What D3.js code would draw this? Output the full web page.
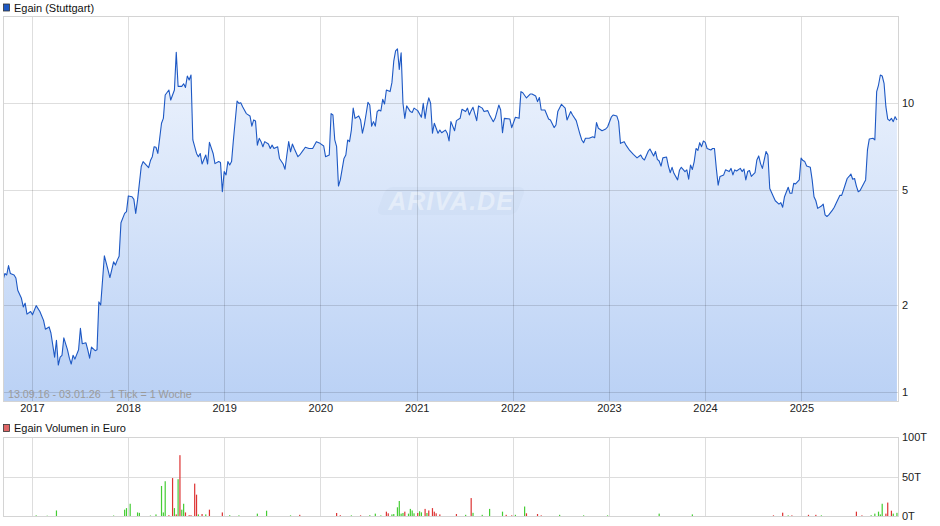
<!DOCTYPE html>
<html><head><meta charset="utf-8">
<script src="https://cdn.jsdelivr.net/npm/d3@7"></script>
<style>
body{margin:0;background:#fff;}
svg{display:block;font-family:"Liberation Sans",Arial,sans-serif;}
</style></head>
<body><svg id="c" width="940" height="526"></svg>
<script>
// ---- data ----
const startDate = "2016-09-13";
const endDate = "2026-01-03";
const priceTitle = "Egain (Stuttgart)";
const volumeTitle = "Egain Volumen in Euro";
const rangeNote = "13.09.16 - 03.01.26   1 Tick = 1 Woche";
const priceTicks = [1, 2, 5, 10];
const volumeTicks = [0, 50000, 100000];
const volumeTickLabels = ["0T", "50T", "100T"];
const yearTicks = [2017, 2018, 2019, 2020, 2021, 2022, 2023, 2024, 2025];

// week index since start, closing price
const priceWeeks = [0,1,2,3,4,6,7,8,10,11,12,13,15,16,18,20,22,23,25,26,28,29,30,31,32,33,35,36,37,38,39,41,42,43,45,46,47,48,50,51,52,53,55,57,58,60,61,62,63,64,66,67,68,70,71,72,73,75,76,77,79,80,81,82,83,84,86,87,88,90,91,93,94,95,97,98,99,100,101,102,103,105,106,107,108,110,111,112,114,115,117,118,119,120,121,122,123,124,125,127,128,129,130,132,134,135,136,137,138,139,140,141,142,144,145,146,147,149,150,152,153,154,155,156,157,158,160,161,163,164,166,168,170,172,174,175,177,178,179,180,181,182,183,185,186,187,188,189,190,191,193,194,195,196,197,198,199,200,201,202,203,204,205,206,207,208,210,211,212,213,214,215,216,217,218,219,221,222,223,225,227,228,229,230,231,232,233,234,236,237,238,240,241,242,243,245,246,248,249,251,252,253,254,255,257,258,260,261,263,264,266,267,269,270,271,272,275,276,278,280,281,282,284,286,287,289,290,291,292,294,296,297,299,300,301,303,305,306,308,309,311,313,314,315,316,318,320,321,322,323,325,327,328,330,331,333,334,335,337,338,340,342,344,346,347,348,350,351,353,354,355,356,357,358,360,361,362,363,364,366,367,368,370,371,372,373,374,375,376,377,378,379,380,381,382,384,385,386,387,388,389,391,392,394,395,396,397,398,400,401,402,403,404,405,406,408,409,410,411,412,414,415,416,418,419,421,422,423,424,426,427,428,429,430,432,433,434,435,436,438,439,440,441,442,444,445,446,447,448,450,451,452,454,455,456,458,459,460,461,462,463,464,465,467,468,469,470,472,473,474,475,476,477,478,479,480,481,482,483,484,485];
const priceValues = [2.44,2.57,2.54,2.74,2.57,2.54,2.48,2.25,2.11,1.97,2.03,1.86,1.90,1.85,1.99,1.90,1.77,1.65,1.68,1.60,1.32,1.51,1.24,1.32,1.34,1.54,1.40,1.31,1.25,1.34,1.30,1.40,1.66,1.47,1.48,1.40,1.31,1.43,1.39,1.40,2.05,2.00,2.96,2.64,2.49,2.82,2.75,2.86,2.95,3.85,4.15,4.21,4.77,4.74,4.64,4.15,4.62,6.03,6.27,6.17,5.98,6.32,6.52,7.06,7.03,6.69,8.51,8.85,10.66,11.09,10.24,11.09,14.97,11.42,11.42,11.66,11.32,12.40,12.01,12.50,7.45,6.69,6.52,6.69,6.15,6.61,6.15,7.31,6.69,6.17,6.27,6.22,4.93,5.79,5.64,6.27,6.10,6.27,7.45,10.16,9.97,10.02,9.71,9.19,9.02,8.32,8.74,8.66,7.15,7.55,7.35,7.06,7.35,7.21,6.96,7.15,6.96,7.06,6.43,6.15,5.90,6.61,7.35,6.78,7.21,6.96,6.52,6.61,6.88,7.03,6.96,6.96,7.35,7.25,7.10,6.52,6.61,9.19,9.09,7.45,7.06,5.16,5.42,6.43,6.61,7.45,7.35,8.06,9.60,8.85,9.02,8.74,7.86,8.39,9.16,10.05,9.84,8.32,8.62,8.32,9.34,9.46,9.38,10.30,9.92,11.09,10.95,11.76,13.95,15.14,15.40,13.07,14.93,9.98,8.85,9.77,9.34,9.27,9.60,9.41,8.93,9.98,8.85,9.77,10.42,9.98,7.86,8.51,7.86,8.06,7.89,8.06,7.86,7.39,8.62,8.02,8.69,8.85,9.51,9.34,9.60,9.09,9.41,9.66,8.69,9.77,9.60,9.34,9.41,9.09,8.62,8.85,9.84,9.46,7.89,8.85,8.80,8.22,8.93,8.85,10.95,10.85,10.41,10.74,10.74,10.57,10.11,10.45,9.46,9.46,8.80,8.74,8.22,8.39,9.34,9.90,9.60,8.74,9.34,9.09,8.69,7.81,7.45,7.29,7.55,7.55,7.64,7.58,8.55,8.18,8.02,8.13,8.26,8.93,9.09,9.02,8.62,7.25,7.35,7.15,6.85,6.64,6.46,6.61,6.43,6.35,6.80,6.93,6.56,6.80,6.38,6.30,6.05,6.46,6.50,6.05,5.74,5.99,5.71,5.42,5.85,5.99,5.79,5.87,5.45,6.10,5.89,6.27,6.96,6.85,7.29,7.06,7.39,7.31,6.96,6.88,6.96,6.96,5.94,5.20,5.57,5.64,5.87,5.79,5.94,5.64,5.87,5.82,5.94,5.79,5.91,5.42,5.79,5.84,5.57,5.74,6.35,6.56,6.17,5.94,6.80,6.61,5.06,4.74,4.59,4.47,4.52,4.36,4.74,5.11,4.87,4.87,5.27,5.25,5.42,6.45,6.32,6.27,6.05,5.99,5.42,4.74,4.59,4.32,4.40,4.47,4.10,4.05,4.10,4.26,4.36,4.50,4.79,4.79,5.00,5.48,5.57,5.68,5.45,5.48,5.16,4.93,4.98,5.27,5.42,6.88,7.51,7.55,7.45,10.95,11.54,12.50,12.40,11.70,9.71,8.80,8.69,8.85,8.62,8.97,8.74];

// volume in euro (week index, amount, direction +1 up / -1 down)
const volumeWeeks = [18,24,29,60,66,67,69,73,74,80,83,86,87,88,90,92,93,94,95,96,97,98,99,101,102,104,105,106,108,110,112,119,123,128,138,143,156,161,181,183,189,194,199,202,205,208,209,211,212,214,215,216,217,218,220,221,222,223,225,226,227,229,230,231,233,234,235,237,246,251,254,255,260,264,271,273,276,278,283,284,290,292,302,315,328,356,374,418,423,426,428,437,441,444,463,466,471,473,475,476,477,479,480,482,483,485];
const volumeValues = [800,400,7000,600,8000,10000,15500,4500,4000,600,2000,38000,4500,44000,1000,48000,10000,2000,46600,77000,8000,15500,4500,1000,1000,41000,27000,2000,2500,2000,8000,4500,1000,800,3000,6700,800,1500,3800,1000,800,800,1000,3000,800,5500,3400,2000,2500,11000,19000,3000,3800,5500,3000,9000,7000,3400,3800,6000,4600,9000,3800,7000,10000,5500,3400,2000,2500,1500,22700,4000,1500,9000,5500,1500,800,1500,12000,3400,2500,800,1500,800,800,3000,2000,800,4200,800,800,1500,1500,800,5500,800,1000,3000,5500,2000,15500,3000,17000,6700,3000,4000];
const volumeDir = [1,1,1,1,1,1,1,1,1,1,1,1,1,1,-1,-1,1,-1,1,-1,1,1,-1,-1,-1,-1,-1,1,-1,1,-1,-1,1,1,1,1,1,-1,-1,-1,1,-1,1,1,1,-1,-1,1,1,1,1,1,1,-1,1,1,1,1,-1,1,1,-1,1,-1,-1,-1,-1,-1,-1,1,-1,1,1,1,1,-1,-1,1,1,-1,-1,-1,1,1,1,1,1,-1,-1,1,-1,-1,-1,1,-1,-1,1,1,1,1,1,-1,-1,-1,1,1];

// ---- chart ----
const svg = d3.select("#c");
const parse = d3.timeParse("%Y-%m-%d");
const t0 = parse(startDate), t1 = parse(endDate);
const weekDate = w => d3.timeDay.offset(t0, w * 7);

const L = 3, R = 898, PT = 16, PB = 401, VT = 437, VB = 516;
const x = d3.scaleTime().domain([t0, t1]).range([L, R]);
const y = d3.scaleLog().domain([0.931, 20]).range([PB, PT]);
const yv = d3.scaleLinear().domain([0, 100000]).range([VB, VT]);

const prices = priceWeeks.map((w, i) => ({d: weekDate(w), v: priceValues[i]}));
const vols = volumeWeeks.map((w, i) => ({d: weekDate(w), v: volumeValues[i], dir: volumeDir[i]}));
const years = yearTicks.map(yr => new Date(yr, 0, 1));

const defs = svg.append("defs");
const grad = defs.append("linearGradient").attr("id", "fillg")
  .attr("gradientUnits", "userSpaceOnUse").attr("x1", 0).attr("y1", PT).attr("x2", 0).attr("y2", PB);
grad.append("stop").attr("offset", 0).attr("stop-color", "#f3f7fe");
grad.append("stop").attr("offset", 1).attr("stop-color", "#bad1f5");
defs.append("clipPath").attr("id", "clipP").append("rect")
  .attr("x", L).attr("y", PT).attr("width", R - L).attr("height", PB - PT);

// price panel
const gP = svg.append("g");
gP.append("g").attr("clip-path", "url(#clipP)")
  .append("path").datum(prices)
  .attr("fill", "url(#fillg)")
  .attr("d", d3.area().x(d => x(d.d)).y0(PB).y1(d => y(d.v)));

// watermark
const wm = gP.append("g").attr("transform", "translate(451,201)");
wm.append("rect").attr("x", -70).attr("y", -14).attr("width", 140).attr("height", 28).attr("rx", 7)
  .attr("transform", "skewX(-20)").attr("fill", "#c8d6ee").attr("opacity", 0.3);
wm.append("text").attr("text-anchor", "middle").attr("y", 9).attr("font-size", 25)
  .attr("font-style", "italic").attr("font-weight", "bold").attr("fill", "#ffffff").attr("opacity", 0.4)
  .attr("letter-spacing", 1).text("ARIVA.DE");

// grid
const grid = gP.append("g").attr("stroke", "#000").attr("stroke-opacity", 0.13).attr("shape-rendering", "crispEdges");
grid.selectAll("line.v").data(years).join("line").attr("class", "v")
  .attr("x1", d => Math.round(x(d)) + 0.5).attr("x2", d => Math.round(x(d)) + 0.5).attr("y1", PT).attr("y2", PB);
grid.selectAll("line.h").data(priceTicks).join("line").attr("class", "h")
  .attr("x1", L).attr("x2", R).attr("y1", d => Math.round(y(d)) + 0.5).attr("y2", d => Math.round(y(d)) + 0.5);

gP.append("g").attr("clip-path", "url(#clipP)")
  .append("path").datum(prices)
  .attr("fill", "none").attr("stroke", "#1d58c4").attr("stroke-width", 1.1).attr("stroke-linejoin", "round")
  .attr("d", d3.line().x(d => x(d.d)).y(d => y(d.v)));

gP.append("rect").attr("x", L + 0.5).attr("y", PT + 0.5).attr("width", R - L).attr("height", PB - PT)
  .attr("fill", "none").attr("stroke", "#d4d4d4");

gP.append("text").attr("x", 8).attr("y", 398).attr("font-size", 10.7).attr("fill", "#9a9a9a")
  .attr("xml:space", "preserve").style("white-space", "pre").text(rangeNote);

// axes
const yAxis = d3.axisRight(y).tickValues(priceTicks).tickFormat(d3.format("d")).tickSize(0).tickPadding(4);
svg.append("g").attr("transform", `translate(${R},0)`).call(yAxis)
  .call(g => g.select(".domain").remove())
  .selectAll("text").attr("font-size", 11).attr("fill", "#222").attr("font-family", "Liberation Sans, Arial, sans-serif");

const xAxis = d3.axisBottom(x).tickValues(years).tickFormat(d3.timeFormat("%Y")).tickSize(0).tickPadding(3);
svg.append("g").attr("transform", `translate(0,${PB})`).call(xAxis)
  .call(g => g.select(".domain").remove())
  .selectAll("text").attr("font-size", 11).attr("fill", "#222").attr("font-family", "Liberation Sans, Arial, sans-serif");

// legends
function legend(yc, col, label) {
  svg.append("rect").attr("x", 3.5).attr("y", yc - 3.5).attr("width", 6).attr("height", 7)
    .attr("fill", col).attr("stroke", "#333").attr("stroke-width", 0.8);
  svg.append("text").attr("x", 14).attr("y", yc + 4).attr("font-size", 11).attr("fill", "#111").text(label);
}
legend(7.5, "#1d58c4", priceTitle);
legend(428, "#e06666", volumeTitle);

// volume panel
const gV = svg.append("g");
const vgrid = gV.append("g").attr("stroke", "#ddd").attr("shape-rendering", "crispEdges");
vgrid.selectAll("line.v").data(years).join("line")
  .attr("x1", d => Math.round(x(d)) + 0.5).attr("x2", d => Math.round(x(d)) + 0.5).attr("y1", VT).attr("y2", VB);
vgrid.append("line").attr("x1", L).attr("x2", R).attr("y1", Math.round(yv(50000)) + 0.5).attr("y2", Math.round(yv(50000)) + 0.5);
gV.append("rect").attr("x", L + 0.5).attr("y", VT + 0.5).attr("width", R - L).attr("height", VB - VT)
  .attr("fill", "none").attr("stroke", "#d4d4d4");
gV.selectAll("rect.bar").data(vols).join("rect").attr("class", "bar")
  .attr("x", d => x(d.d) - 0.6).attr("width", 1.2)
  .attr("y", d => yv(d.v)).attr("height", d => VB - yv(d.v))
  .attr("fill", d => d.dir > 0 ? "#44cc33" : "#dd3333");

const vAxis = d3.axisRight(yv).tickValues(volumeTicks).tickFormat((d, i) => volumeTickLabels[i]).tickSize(0).tickPadding(4);
svg.append("g").attr("transform", `translate(${R},0)`).call(vAxis)
  .call(g => g.select(".domain").remove())
  .selectAll("text").attr("font-size", 11).attr("fill", "#222").attr("font-family", "Liberation Sans, Arial, sans-serif");
</script></body></html>
